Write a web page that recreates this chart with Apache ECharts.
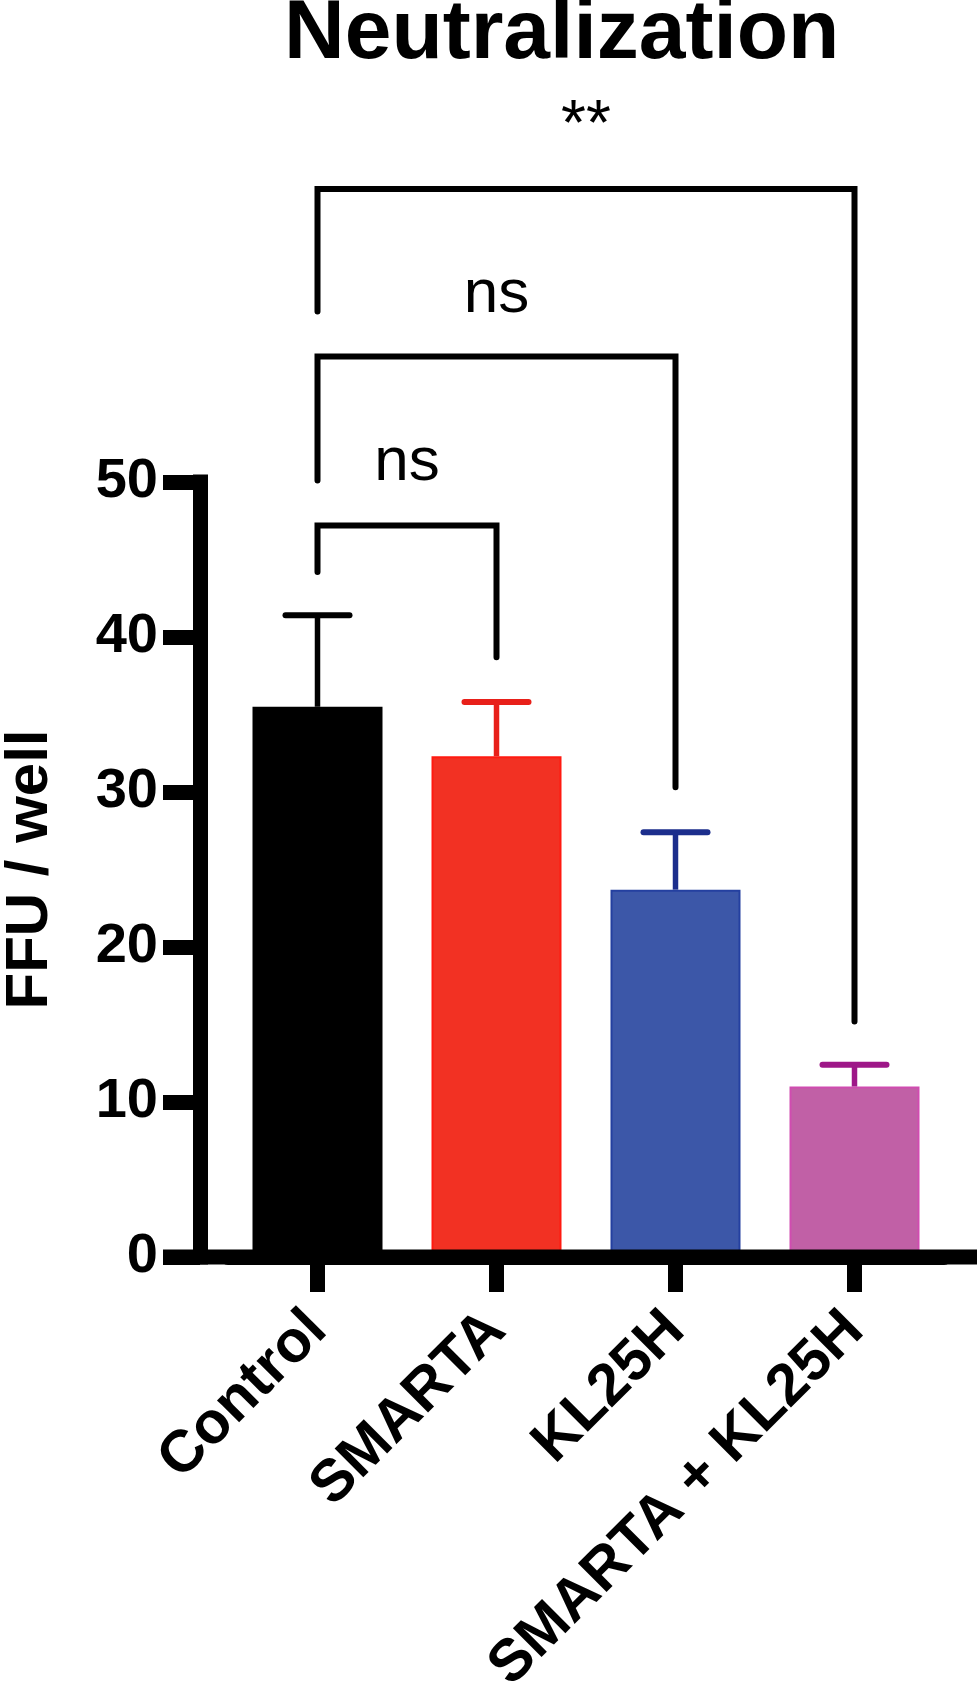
<!DOCTYPE html>
<html>
<head>
<meta charset="utf-8">
<script src="https://cdn.jsdelivr.net/npm/echarts@6/dist/echarts.min.js"></script>
<style>
html,body{margin:0;padding:0;background:#fff;}
#chart{width:977px;height:1685px;}
</style>
</head>
<body>
<div id="chart"></div>
<script>
const categories = ['Control', 'SMARTA', 'KL25H', 'SMARTA + KL25H'];
const means = [35.5, 32.3, 23.7, 11.0];
const errorTops = [41.4, 35.8, 27.4, 12.4];
const yTicks = [0, 10, 20, 30, 40, 50];

const barColors = ['#000000', '#F23123', '#3C57A8', '#C160A6'];
const barBorders = ['#000000', '#FF1A10', '#2440A0', '#D04CB0'];
const errColors = ['#000000', '#E8201A', '#1C2E8C', '#9E1788'];

const bracketFrom = [0, 0, 0];
const bracketTo = [1, 2, 3];
const bracketLevel = [47.2, 58.1, 68.9];
const bracketFromEnd = [44.2, 50.1, 61.0];
const bracketToEnd = [38.7, 30.3, 15.2];
const bracketLabel = ['ns', 'ns', '**'];

const FONT = '"Liberation Sans", Arial, Helvetica, sans-serif';

const chart = echarts.init(document.getElementById('chart'), null, {renderer: 'canvas'});

const errData = categories.map((c, i) => [i, means[i], errorTops[i]]);
const bracketData = bracketFrom.map((f, i) => [f, bracketTo[i], bracketLevel[i], bracketFromEnd[i], bracketToEnd[i], i]);

const option = {
  animation: false,
  backgroundColor: '#ffffff',
  title: {
    text: 'Neutralization',
    left: 279,
    top: -12,
    textStyle: {fontFamily: FONT, fontWeight: 'bold', fontSize: 84, color: '#000'}
  },
  grid: {left: 228, right: 33, top: 482, bottom: 428, containLabel: false, outerBoundsMode: 'none'},
  xAxis: {
    type: 'category',
    data: categories,
    z: 6,
    axisLine: {show: true, lineStyle: {color: '#000', width: 15}},
    axisTick: {show: true, alignWithLabel: true, length: 35, lineStyle: {color: '#000', width: 15}},
    axisLabel: {
      rotate: 45,
      margin: 64,
      interval: 0,
      fontFamily: FONT,
      fontWeight: 'bold',
      fontSize: 59,
      color: '#000'
    },
    splitLine: {show: false}
  },
  yAxis: {
    type: 'value',
    min: yTicks[0],
    max: yTicks[yTicks.length - 1],
    interval: 10,
    offset: 28,
    z: 6,
    name: 'FFU / well',
    nameLocation: 'middle',
    nameRotate: 90,
    nameGap: 140,
    nameTextStyle: {fontFamily: FONT, fontWeight: 'bold', fontSize: 60, color: '#000'},
    axisLine: {show: true, lineStyle: {color: '#000', width: 15, cap: 'square'}},
    axisTick: {show: true, length: 37, lineStyle: {color: '#000', width: 15}},
    axisLabel: {margin: 42, fontFamily: FONT, fontWeight: 'bold', fontSize: 56, color: '#000'},
    splitLine: {show: false}
  },
  series: [
    {
      type: 'bar',
      barWidth: 130,
      data: means.map((v, i) => ({
        value: v,
        itemStyle: {color: barColors[i], borderColor: barBorders[i], borderWidth: 2}
      })),
      z: 2
    },
    {
      type: 'custom',
      clip: false,
      z: 3,
      data: errData,
      renderItem: function (params, api) {
        const i = api.value(0);
        const base = api.coord([i, api.value(1)]);
        const top = api.coord([i, api.value(2)]);
        const half = 32;
        const col = errColors[params.dataIndex];
        return {
          type: 'group',
          children: [
            {type: 'line', shape: {x1: base[0], y1: base[1], x2: top[0], y2: top[1]},
             style: {stroke: col, lineWidth: 5.5}},
            {type: 'line', shape: {x1: top[0] - half, y1: top[1], x2: top[0] + half, y2: top[1]},
             style: {stroke: col, lineWidth: 6, lineCap: 'round'}}
          ]
        };
      }
    },
    {
      type: 'custom',
      clip: false,
      z: 3,
      data: bracketData,
      renderItem: function (params, api) {
        const a = api.coord([api.value(0), api.value(2)]);
        const b = api.coord([api.value(1), api.value(2)]);
        const aEnd = api.coord([api.value(0), api.value(3)]);
        const bEnd = api.coord([api.value(1), api.value(4)]);
        const idx = api.value(5);
        const label = bracketLabel[idx];
        const isStar = label.indexOf('*') >= 0;
        return {
          type: 'group',
          children: [
            {type: 'polyline', shape: {points: [[aEnd[0], aEnd[1]], [a[0], a[1]], [b[0], b[1]], [bEnd[0], bEnd[1]]]},
             style: {stroke: '#000', lineWidth: 6, fill: null, lineJoin: 'miter', lineCap: 'round'}},
            {type: 'text',
             style: {
               text: label,
               x: (a[0] + b[0]) / 2,
               y: a[1] - 62,
               align: 'center',
               verticalAlign: 'middle',
               fill: '#000',
               font: (isStar ? '64px ' : '62px ') + FONT
             }}
          ]
        };
      }
    }
  ]
};

chart.setOption(option);

const y0 = chart.convertToPixel({yAxisIndex: 0}, 0);
chart.setOption({
  graphic: [
    {type: 'rect', z: 10, shape: {x: 163, y: y0 - 7.5, width: 977 - 163, height: 15}, style: {fill: '#000'}}
  ]
});
</script>
</body>
</html>
